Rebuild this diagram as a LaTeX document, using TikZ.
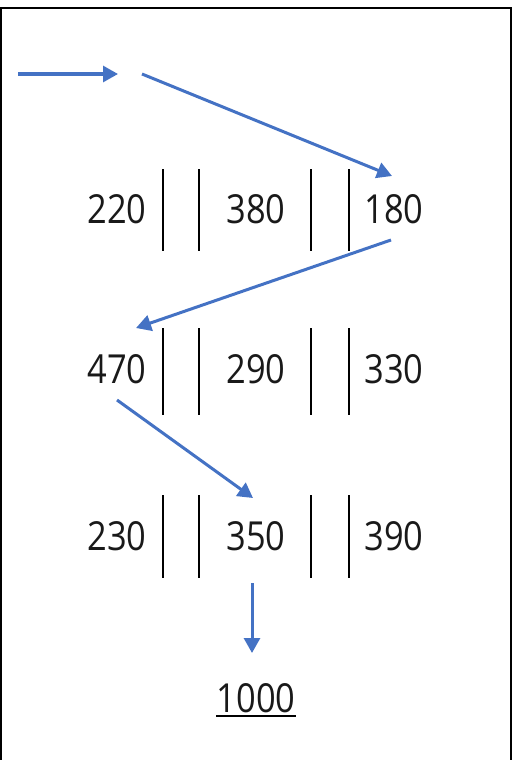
\documentclass[tikz,border=0pt]{standalone}
\usepackage{fontspec}
\setmainfont{Open Sans}[FakeStretch=0.86]
\usetikzlibrary{arrows.meta}
\definecolor{arrblue}{HTML}{4472C4}
\tikzset{
  num/.style={anchor=base, inner sep=0pt, font=\fontsize{40}{40}\selectfont, text=black!90},
  bar/.style={line width=2pt, black},
  flow/.style={line width=3pt, arrblue, -{Triangle[length=15pt,width=16pt]}, shorten >=0pt},
  frame/.style={line width=2pt, black}
}
\begin{document}
\begin{tikzpicture}[x=1pt,y=-1pt]
\useasboundingbox (0,0) rectangle (514,760);
% frame
\draw[frame] (1,762) -- (1,8) -- (511,8) -- (511,762);
% rows of numbers
\node[num] (a1) at (117,223) {220};
\node[num] (a2) at (256,223) {380};
\node[num] (a3) at (394,223) {180};
\node[num] (b1) at (117,383) {470};
\node[num] (b2) at (256,383) {290};
\node[num] (b3) at (394,383) {330};
\node[num] (c1) at (117,550) {230};
\node[num] (c2) at (256,550) {350};
\node[num] (c3) at (394,550) {390};
\node[num] (total) at (256,712) {1000};
\draw[line width=2pt] ([yshift=-4pt]total.base west) -- ([yshift=-4pt]total.base east);
% bars
\foreach \x in {163,199,311,349}{
  \draw[bar] (\x,169) -- (\x,251);
  \draw[bar] (\x,328) -- (\x,415);
  \draw[bar] (\x,495) -- (\x,578);
}
% arrow coordinates
\coordinate (s0) at (18,74);
\coordinate (t0) at (118,74);
\coordinate (s1) at (142,74);
\coordinate (t1) at (392,176);
\coordinate (s2) at (391,240);
\coordinate (t2) at (136,328);
\coordinate (s3) at (117,400);
\coordinate (t3) at (253,498);
\coordinate (s4) at (252,583);
\coordinate (t4) at (252,653);
\draw[flow] (s0) -- (t0);
\draw[flow] (s1) -- (t1);
\draw[flow] (s2) -- (t2);
\draw[flow] (s3) -- (t3);
\draw[flow] (s4) -- (t4);
\end{tikzpicture}
\end{document}
